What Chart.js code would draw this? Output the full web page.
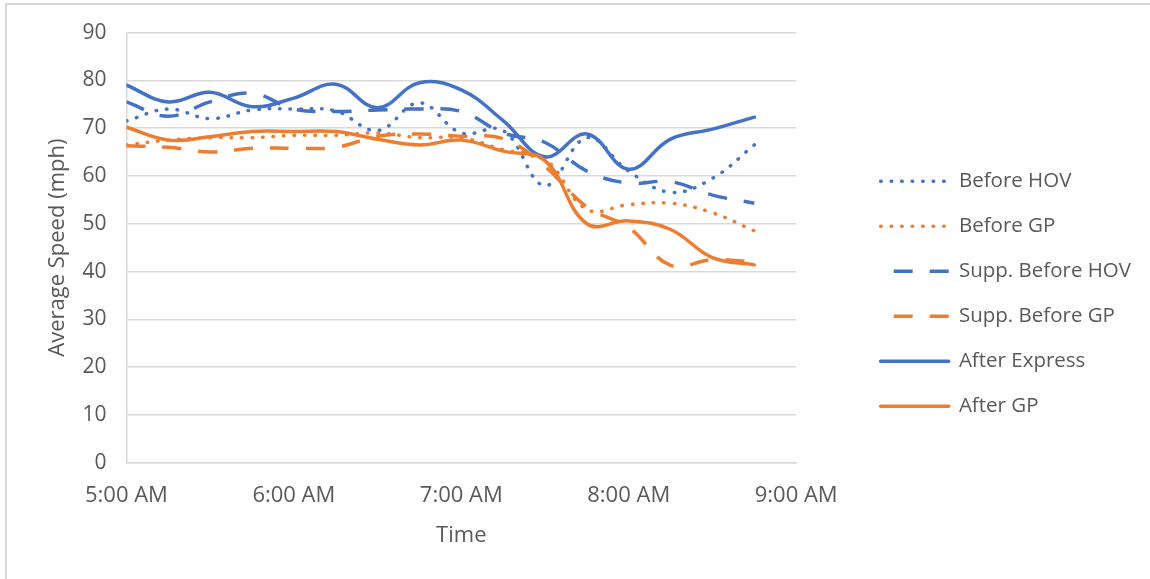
<!DOCTYPE html>
<html>
<head>
<meta charset="utf-8">
<script src="https://cdn.jsdelivr.net/npm/chart.js@4/dist/chart.umd.min.js"></script>
<style>
  html, body { margin: 0; padding: 0; background: #fff; }
  #wrap { position: relative; width: 1150px; height: 579px; }
  #frame { position: absolute; left: 5px; top: 3px; right: -2px; bottom: -2px;
           border-left: 2px solid #d9d9d9; border-top: 2px solid #d9d9d9; pointer-events: none; }
</style>
</head>
<body>
<div id="wrap">
  <canvas id="speedChart" width="1150" height="579"></canvas>
  <div id="frame"></div>
</div>
<script>
// --- DATA (15-minute bins, minutes after midnight) ---
const times = [300, 315, 330, 345, 360, 375, 390, 405, 420, 435, 450, 465, 480, 495, 510, 525];
const tickLabels = ['5:00 AM', '6:00 AM', '7:00 AM', '8:00 AM', '9:00 AM'];

const beforeHov     = [71.5, 74, 72, 73.8, 74, 73.6, 69.5, 75.3, 69, 69.5, 58, 68, 61, 56.6, 59.5, 66.5];
const beforeGp      = [66.5, 67.5, 68, 68, 68.5, 68.5, 69, 68, 68, 65.5, 63.5, 53, 54, 54.3, 52.3, 48.5];
const suppBeforeHov = [75.5, 72.5, 75.5, 77.3, 74, 73.5, 73.8, 74, 73.5, 69, 67, 61, 58.5, 58.8, 56, 54.3];
const suppBeforeGp  = [66.3, 66, 65, 65.8, 65.8, 66, 68.3, 68.8, 68.3, 67.8, 62, 53.5, 49.2, 41.3, 42.5, 42];
const afterExpress  = [79, 75.5, 77.5, 74.5, 76.3, 79.2, 74.3, 79.5, 78, 71.6, 64, 68.8, 61.4, 67.7, 69.8, 72.3];
const afterGp       = [70.2, 67.5, 68.2, 69.3, 69.3, 69.3, 67.7, 66.5, 67.5, 65.2, 63.2, 50, 50.6, 48.8, 42.9, 41.4];

const BLUE = '#4472C4';
const ORANGE = '#ED7D31';
const TEXT = '#595959';
const GRID = '#d9d9d9';

const DOT = [0.5, 10];
const DASH = [19, 17];

function pts(vals) {
    return vals.map((v, i) => ({ x: times[i], y: v }));
}

// series in Excel order; later ones drawn on top
const seriesDefs = [
    { label: 'Before HOV',       data: beforeHov,     color: BLUE,   dash: DOT,  cap: 'round' },
    { label: 'Before GP',        data: beforeGp,      color: ORANGE, dash: DOT,  cap: 'round' },
    { label: 'Supp. Before HOV', data: suppBeforeHov, color: BLUE,   dash: DASH, cap: 'butt' },
    { label: 'Supp. Before GP',  data: suppBeforeGp,  color: ORANGE, dash: DASH, cap: 'butt' },
    { label: 'After Express',    data: afterExpress,  color: BLUE,   dash: [],   cap: 'round' },
    { label: 'After GP',         data: afterGp,       color: ORANGE, dash: [],   cap: 'round' }
];

const datasets = seriesDefs.map((s, i) => ({
    label: s.label,
    data: pts(s.data),
    borderColor: s.color,
    backgroundColor: s.color,
    borderWidth: 3.5,
    borderDash: s.dash,
    borderCapStyle: s.cap,
    borderJoinStyle: 'round',
    pointRadius: 0,
    tension: 0.4,
    fill: false,
    order: seriesDefs.length - i
}));

const FAMILY = '"Open Sans", "DejaVu Sans", sans-serif';
const titleFont = { family: FAMILY, size: 22 };
const xTickFont = { family: FAMILY, size: 22 };
const yTickFont = { family: FAMILY, size: 21 };
const legendFont = { family: FAMILY, size: 20.5 };

// nudge the legend block to where Excel put it
const legendNudge = {
    id: 'legendNudge',
    afterLayout(chart) {
        const lg = chart.legend;
        const dx = 60, dy = 5.5;
        lg.left += dx; lg.right += dx;
        lg.top += dy; lg.bottom += dy;
    }
};

new Chart(document.getElementById('speedChart'), {
    type: 'line',
    data: { datasets: datasets },
    plugins: [legendNudge],
    options: {
        responsive: false,
        animation: false,
        layout: { padding: { top: 28, left: 45, right: 69, bottom: 30.5 } },
        plugins: {
            tooltip: { enabled: false },
            legend: {
                position: 'right',
                align: 'center',
                maxWidth: 320,
                labels: {
                    usePointStyle: true,
                    pointStyle: 'line',
                    pointStyleWidth: 68,
                    boxHeight: 20,
                    padding: 24.5,
                    color: TEXT,
                    font: legendFont,
                    sort: (a, b) => a.datasetIndex - b.datasetIndex,
                    generateLabels(chart) {
                        const items = Chart.defaults.plugins.legend.labels.generateLabels(chart);
                        items.forEach(it => {
                            const ds = chart.data.datasets[it.datasetIndex];
                            it.lineDash = ds.borderDash;
                            it.lineDashOffset = ds.borderDash === DASH ? 23 : 0;
                            it.lineCap = ds.borderCapStyle;
                            it.lineWidth = 3.5;
                            it.strokeStyle = ds.borderColor;
                            it.fillStyle = ds.borderColor;
                            it.pointStyle = 'line';
                        });
                        return items;
                    }
                }
            }
        },
        scales: {
            x: {
                type: 'linear',
                min: 300,
                max: 540,
                grid: { display: false, drawTicks: false },
                border: { display: true, color: GRID, width: 1.5 },
                ticks: {
                    stepSize: 60,
                    padding: 20,
                    color: TEXT,
                    font: xTickFont,
                    maxRotation: 0,
                    callback: (v) => tickLabels[(v - 300) / 60]
                },
                title: { display: true, text: 'Time', color: TEXT, font: titleFont, padding: { top: -7, bottom: 0 } }
            },
            y: {
                min: 0,
                max: 90,
                grid: { color: GRID, lineWidth: 1.5, drawTicks: false },
                border: { display: true, color: GRID, width: 1.5 },
                ticks: { stepSize: 10, padding: 20, color: TEXT, font: yTickFont },
                title: { display: true, text: 'Average Speed (mph)', color: TEXT, font: titleFont, padding: { top: 0, bottom: -9 } }
            }
        }
    }
});
</script>
</body>
</html>
